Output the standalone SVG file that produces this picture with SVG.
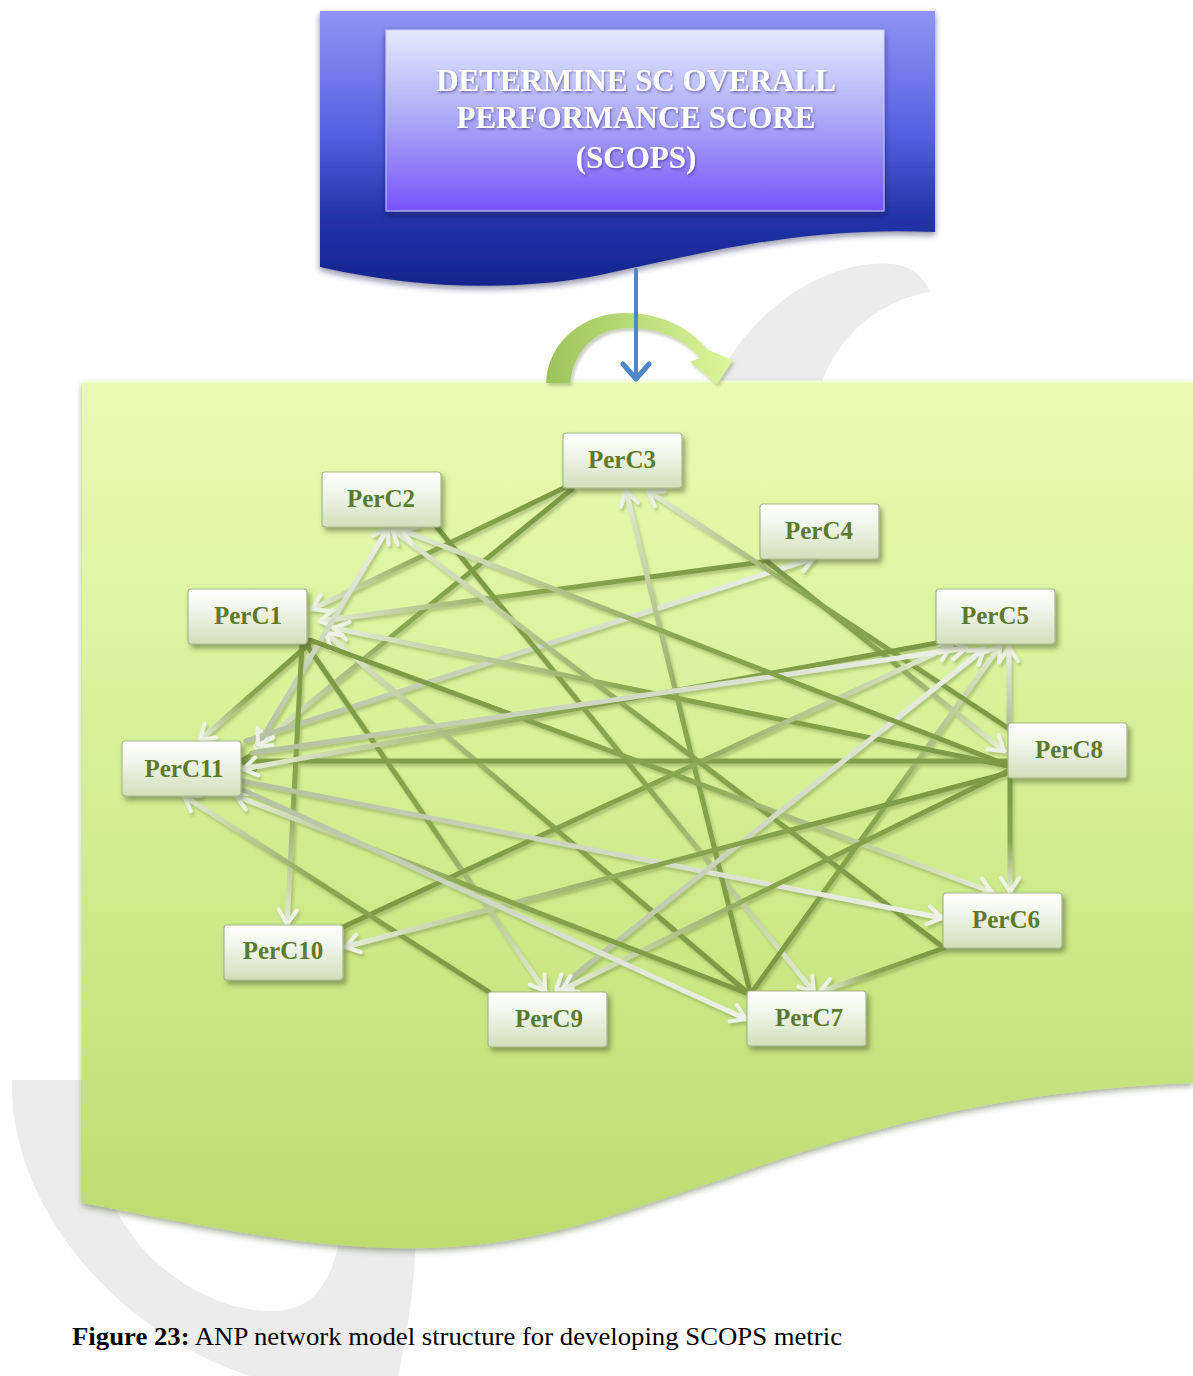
<svg xmlns="http://www.w3.org/2000/svg" xmlns:xlink="http://www.w3.org/1999/xlink" width="1193" height="1376" viewBox="0 0 1193 1376">
  <style>
    .node-box { fill: url(#nodeFill); stroke: #a7b78b; stroke-width: 1.2; filter: url(#nodeShadow); }
    .node-label { font-family: "Liberation Serif", "Times New Roman", serif; font-weight: bold; font-size: 25px; fill: #5d7a2c; text-anchor: middle; }
    .title { font-family: "Liberation Serif", "Times New Roman", serif; font-weight: bold; font-size: 31px; fill: #ffffff; text-anchor: middle; filter: url(#textShadow); }
    .edge { fill: none; stroke-width: 5; stroke-linecap: round; }
    .to-light { marker-end: url(#headLight); }
    .to-dark { marker-end: url(#headDark); }
    .from-light { marker-start: url(#tailLight); }
    .caption { font-family: "Liberation Serif", "Times New Roman", serif; font-size: 25px; fill: #000000; }
  </style>
  <defs>
    <linearGradient id="goalOuter" x1="0" y1="0" x2="0" y2="1">
      <stop offset="0" stop-color="#9094f6"/>
      <stop offset="0.45" stop-color="#5560e0"/>
      <stop offset="0.75" stop-color="#2233a8"/>
      <stop offset="1" stop-color="#14248e"/>
    </linearGradient>
    <linearGradient id="goalInner" x1="0" y1="0" x2="0" y2="1">
      <stop offset="0" stop-color="#e2eafc"/>
      <stop offset="0.5" stop-color="#aaa8f6"/>
      <stop offset="1" stop-color="#7852fa"/>
    </linearGradient>
    <linearGradient id="panelFill" x1="0" y1="0" x2="0" y2="1">
      <stop offset="0" stop-color="#e9fcb2"/>
      <stop offset="0.45" stop-color="#d4f094"/>
      <stop offset="1" stop-color="#bcdc70"/>
    </linearGradient>
    <linearGradient id="loopFill" x1="0" y1="0" x2="1" y2="0">
      <stop offset="0" stop-color="#9cc35a"/>
      <stop offset="1" stop-color="#dcf79c"/>
    </linearGradient>
    <linearGradient id="nodeFill" x1="0" y1="0" x2="0" y2="1">
      <stop offset="0" stop-color="#ffffff"/>
      <stop offset="0.35" stop-color="#f3f6ec"/>
      <stop offset="1" stop-color="#d2dfba"/>
    </linearGradient>
    <!-- connector colour ramps: dark olive at the source, pale at the arrowhead -->
    <linearGradient id="rampDark" gradientUnits="userSpaceOnUse">
      <stop offset="0" stop-color="#7b9943"/>
      <stop offset="0.55" stop-color="#88a750"/>
      <stop offset="1" stop-color="#e6ecd8"/>
    </linearGradient>
    <linearGradient id="rampLight" gradientUnits="userSpaceOnUse">
      <stop offset="0" stop-color="#b2c09e"/>
      <stop offset="1" stop-color="#eef1e8"/>
    </linearGradient>

    <linearGradient id="g1" xlink:href="#rampDark" gradientUnits="userSpaceOnUse" x1="566" y1="487" x2="312" y2="609"/>
    <linearGradient id="g2" xlink:href="#rampDark" gradientUnits="userSpaceOnUse" x1="572" y1="489" x2="256" y2="747"/>
    <linearGradient id="g3" xlink:href="#rampDark" gradientUnits="userSpaceOnUse" x1="762" y1="562" x2="320" y2="621"/>
    <linearGradient id="g4" xlink:href="#rampLight" gradientUnits="userSpaceOnUse" x1="246" y1="741" x2="814" y2="558"/>
    <linearGradient id="g5" xlink:href="#rampDark" gradientUnits="userSpaceOnUse" x1="764" y1="559" x2="1004" y2="751"/>
    <linearGradient id="g6" xlink:href="#rampDark" gradientUnits="userSpaceOnUse" x1="436" y1="526" x2="814" y2="992"/>
    <linearGradient id="g7" xlink:href="#rampDark" gradientUnits="userSpaceOnUse" x1="750" y1="992" x2="626" y2="491"/>
    <linearGradient id="g8" xlink:href="#rampDark" gradientUnits="userSpaceOnUse" x1="752" y1="992" x2="1000" y2="646"/>
    <linearGradient id="g9" xlink:href="#rampDark" gradientUnits="userSpaceOnUse" x1="748" y1="993" x2="326" y2="633"/>
    <linearGradient id="g10" xlink:href="#rampDark" gradientUnits="userSpaceOnUse" x1="306" y1="644" x2="545" y2="991"/>
    <linearGradient id="g11" xlink:href="#rampDark" gradientUnits="userSpaceOnUse" x1="1008" y1="766" x2="334" y2="628"/>
    <linearGradient id="g13" xlink:href="#rampLight" gradientUnits="userSpaceOnUse" x1="258" y1="745" x2="388" y2="528"/>
    <linearGradient id="g14" xlink:href="#rampDark" gradientUnits="userSpaceOnUse" x1="1008" y1="728" x2="648" y2="491"/>
    <linearGradient id="g15" xlink:href="#rampDark" gradientUnits="userSpaceOnUse" x1="302" y1="645" x2="287" y2="924"/>
    <linearGradient id="g16" xlink:href="#rampDark" gradientUnits="userSpaceOnUse" x1="343" y1="927" x2="951" y2="646"/>
    <linearGradient id="g17" xlink:href="#rampDark" gradientUnits="userSpaceOnUse" x1="489" y1="992" x2="184" y2="796"/>
    <linearGradient id="g18" xlink:href="#rampDark" gradientUnits="userSpaceOnUse" x1="944" y1="948" x2="820" y2="992"/>
    <linearGradient id="g19" xlink:href="#rampDark" gradientUnits="userSpaceOnUse" x1="943" y1="947" x2="392" y2="529"/>
    <linearGradient id="g20" xlink:href="#rampLight" gradientUnits="userSpaceOnUse" x1="1009" y1="723" x2="1009" y2="647"/>
    <linearGradient id="g21" xlink:href="#rampDark" gradientUnits="userSpaceOnUse" x1="1010" y1="779" x2="1010" y2="892"/>
    <linearGradient id="g22" xlink:href="#rampDark" gradientUnits="userSpaceOnUse" x1="310" y1="640" x2="992" y2="892"/>
    <linearGradient id="g23" xlink:href="#rampLight" gradientUnits="userSpaceOnUse" x1="242" y1="781" x2="942" y2="918"/>
    <linearGradient id="g24" xlink:href="#rampDark" gradientUnits="userSpaceOnUse" x1="937" y1="643" x2="243" y2="769"/>
    <linearGradient id="g25" xlink:href="#rampLight" gradientUnits="userSpaceOnUse" x1="252" y1="753" x2="966" y2="648"/>
    <linearGradient id="g26" xlink:href="#rampLight" gradientUnits="userSpaceOnUse" x1="556" y1="990" x2="984" y2="649"/>
    <linearGradient id="g27" xlink:href="#rampDark" gradientUnits="userSpaceOnUse" x1="1010" y1="770" x2="562" y2="990"/>
    <linearGradient id="g28" xlink:href="#rampDark" gradientUnits="userSpaceOnUse" x1="1012" y1="772" x2="345" y2="947"/>
    <linearGradient id="g29" xlink:href="#rampDark" gradientUnits="userSpaceOnUse" x1="1010" y1="766" x2="402" y2="530"/>
    <linearGradient id="g30" xlink:href="#rampDark" gradientUnits="userSpaceOnUse" x1="749" y1="994" x2="236" y2="796"/>
    <linearGradient id="g31" xlink:href="#rampLight" gradientUnits="userSpaceOnUse" x1="241" y1="789" x2="746" y2="1019"/>
    <linearGradient id="g32" xlink:href="#rampDark" gradientUnits="userSpaceOnUse" x1="309" y1="644" x2="200" y2="740"/>

    <marker id="headLight" markerUnits="userSpaceOnUse" viewBox="-18 -12 22 24" markerWidth="22" markerHeight="24" refX="0" refY="0" orient="auto" overflow="visible">
      <path d="M-14,-9 L0,0 L-14,9" fill="none" stroke="#eef2e6" stroke-width="4" stroke-linecap="round" stroke-linejoin="round"/>
    </marker>
    <marker id="tailLight" markerUnits="userSpaceOnUse" viewBox="-4 -12 22 24" markerWidth="22" markerHeight="24" refX="0" refY="0" orient="auto" overflow="visible">
      <path d="M14,-9 L0,0 L14,9" fill="none" stroke="#eef2e6" stroke-width="4" stroke-linecap="round" stroke-linejoin="round"/>
    </marker>
    <marker id="headDark" markerUnits="userSpaceOnUse" viewBox="-18 -12 22 24" markerWidth="22" markerHeight="24" refX="0" refY="0" orient="auto" overflow="visible">
      <path d="M-14,-9 L0,0 L-14,9" fill="none" stroke="#7f9d47" stroke-width="4" stroke-linecap="round" stroke-linejoin="round"/>
    </marker>

    <filter id="nodeShadow" x="-20%" y="-30%" width="150%" height="170%">
      <feDropShadow dx="3" dy="4" stdDeviation="2.5" flood-color="#44552a" flood-opacity="0.5"/>
    </filter>
    <filter id="edgeShadow" x="-10%" y="-10%" width="120%" height="120%">
      <feDropShadow dx="2" dy="3" stdDeviation="1.5" flood-color="#4d6128" flood-opacity="0.3"/>
    </filter>
    <filter id="panelShadow" x="-5%" y="-5%" width="110%" height="115%">
      <feDropShadow dx="0" dy="3" stdDeviation="3" flood-color="#3c4a22" flood-opacity="0.45"/>
    </filter>
    <filter id="goalShadow" x="-5%" y="-5%" width="110%" height="120%">
      <feDropShadow dx="0" dy="3" stdDeviation="3" flood-color="#101840" flood-opacity="0.5"/>
    </filter>
    <filter id="textShadow" x="-5%" y="-20%" width="110%" height="150%">
      <feDropShadow dx="1" dy="1.5" stdDeviation="1" flood-color="#2a2070" flood-opacity="0.55"/>
    </filter>
  </defs>

  <rect width="1193" height="1376" fill="#ffffff"/>

  <!-- pale grey background mark -->
  <g id="backdrop-mark" fill="#ececec">
    <path d="M12,1080 C8,1200 110,1330 250,1376 L398,1376 C410,1320 418,1270 416,1180 L416,1080 Z M96,1150 C112,1250 200,1311 272,1311 C322,1311 342,1270 346,1180 Z" fill-rule="evenodd"/>
    <path d="M716,382 C752,306 830,258 893,264 C912,266 925,278 930,292 C880,300 838,336 822,382 Z"/>
  </g>

  <!-- goal banner -->
  <g id="goal">
    <path d="M320,11 L935,11 L935,232 C800,226 700,254 600,275 C520,291 420,290 320,267 Z" fill="url(#goalOuter)" filter="url(#goalShadow)"/>
    <rect x="386" y="30" width="498" height="181" fill="url(#goalInner)" stroke="#c8ccf8" stroke-width="1" filter="url(#goalShadow)"/>
    <text class="title" x="636" y="91">DETERMINE SC OVERALL</text>
    <text class="title" x="636" y="128">PERFORMANCE SCORE</text>
    <text class="title" x="636" y="168">(SCOPS)</text>
  </g>

  <!-- network panel -->
  <g id="network-panel">
    <path d="M82,381 L1193,381 L1193,1083 C1000,1090 860,1130 720,1180 C640,1205 560,1240 450,1247 C330,1255 200,1225 82,1203 Z" fill="url(#panelFill)" filter="url(#panelShadow)"/>
    <line x1="82" y1="381.5" x2="1193" y2="381.5" stroke="#f6ffd8" stroke-width="2"/>
  </g>

  <!-- feedback loop over the panel -->
  <g id="feedback-loop">
    <path d="M546,383 C548,340 585,313 625,313 C662,313 690,328 708,350 L733,360 L717,384 L690,362 L700,358 C686,340 660,328 628,328 C598,328 574,348 570,383 Z" fill="url(#loopFill)" filter="url(#edgeShadow)"/>
  </g>

  <!-- goal to network link -->
  <g id="goal-link" fill="none" stroke="#4f88c8" stroke-linecap="round" stroke-linejoin="round">
    <line x1="636" y1="270" x2="636" y2="378" stroke-width="4"/>
    <path d="M623,364 L636,379 L649,364" stroke-width="5"/>
  </g>

  <!-- dependencies between criteria -->
  <g id="connectors" filter="url(#edgeShadow)">
    <line class="edge to-light" x1="566" y1="487" x2="312" y2="609" stroke="url(#g1)"/>
    <line class="edge to-light" x1="572" y1="489" x2="256" y2="747" stroke="url(#g2)"/>
    <line class="edge to-light" x1="762" y1="562" x2="320" y2="621" stroke="url(#g3)"/>
    <line class="edge to-light" x1="246" y1="741" x2="814" y2="558" stroke="url(#g4)"/>
    <line class="edge to-light" x1="764" y1="559" x2="1004" y2="751" stroke="url(#g5)"/>
    <line class="edge to-light" x1="436" y1="526" x2="814" y2="992" stroke="url(#g6)"/>
    <line class="edge to-light" x1="750" y1="992" x2="626" y2="491" stroke="url(#g7)"/>
    <line class="edge to-light" x1="752" y1="992" x2="1000" y2="646" stroke="url(#g8)"/>
    <line class="edge to-light" x1="748" y1="993" x2="326" y2="633" stroke="url(#g9)"/>
    <line class="edge to-light" x1="306" y1="644" x2="545" y2="991" stroke="url(#g10)"/>
    <line class="edge to-light" x1="1008" y1="766" x2="334" y2="628" stroke="url(#g11)"/>
    <line class="edge to-dark" x1="1008" y1="761" x2="241" y2="761" stroke="#819f49"/>
    <line class="edge to-light from-light" x1="258" y1="745" x2="388" y2="528" stroke="url(#g13)"/>
    <line class="edge to-light" x1="1008" y1="728" x2="648" y2="491" stroke="url(#g14)"/>
    <line class="edge to-light" x1="302" y1="645" x2="287" y2="924" stroke="url(#g15)"/>
    <line class="edge to-light" x1="343" y1="927" x2="951" y2="646" stroke="url(#g16)"/>
    <line class="edge to-light" x1="489" y1="992" x2="184" y2="796" stroke="url(#g17)"/>
    <line class="edge to-light" x1="944" y1="948" x2="820" y2="992" stroke="url(#g18)"/>
    <line class="edge to-light" x1="943" y1="947" x2="392" y2="529" stroke="url(#g19)"/>
    <line class="edge to-light" x1="1009" y1="723" x2="1009" y2="647" stroke="url(#g20)"/>
    <line class="edge to-light" x1="1010" y1="779" x2="1010" y2="892" stroke="url(#g21)"/>
    <line class="edge to-light" x1="310" y1="640" x2="992" y2="892" stroke="url(#g22)"/>
    <line class="edge to-light" x1="242" y1="781" x2="942" y2="918" stroke="url(#g23)"/>
    <line class="edge to-light" x1="937" y1="643" x2="243" y2="769" stroke="url(#g24)"/>
    <line class="edge to-light" x1="252" y1="753" x2="966" y2="648" stroke="url(#g25)"/>
    <line class="edge to-light from-light" x1="556" y1="990" x2="984" y2="649" stroke="url(#g26)"/>
    <line class="edge to-light" x1="1010" y1="770" x2="562" y2="990" stroke="url(#g27)"/>
    <line class="edge to-light" x1="1012" y1="772" x2="345" y2="947" stroke="url(#g28)"/>
    <line class="edge to-light" x1="1010" y1="766" x2="402" y2="530" stroke="url(#g29)"/>
    <line class="edge to-light" x1="749" y1="994" x2="236" y2="796" stroke="url(#g30)"/>
    <line class="edge to-light" x1="241" y1="789" x2="746" y2="1019" stroke="url(#g31)"/>
    <line class="edge to-light" x1="309" y1="644" x2="200" y2="740" stroke="url(#g32)"/>
  </g>

  <!-- criteria -->
  <g id="PerC1"><rect class="node-box" x="188" y="589" width="119" height="55" rx="3"/><text class="node-label" x="248" y="624">PerC1</text></g>
  <g id="PerC2"><rect class="node-box" x="322" y="472" width="119" height="55" rx="3"/><text class="node-label" x="381" y="507">PerC2</text></g>
  <g id="PerC3"><rect class="node-box" x="563" y="433" width="119" height="55" rx="3"/><text class="node-label" x="622" y="468">PerC3</text></g>
  <g id="PerC4"><rect class="node-box" x="760" y="504" width="119" height="55" rx="3"/><text class="node-label" x="819" y="539">PerC4</text></g>
  <g id="PerC5"><rect class="node-box" x="936" y="589" width="119" height="55" rx="3"/><text class="node-label" x="995" y="624">PerC5</text></g>
  <g id="PerC6"><rect class="node-box" x="943" y="893" width="119" height="55" rx="3"/><text class="node-label" x="1006" y="928">PerC6</text></g>
  <g id="PerC7"><rect class="node-box" x="747" y="991" width="119" height="55" rx="3"/><text class="node-label" x="809" y="1026">PerC7</text></g>
  <g id="PerC8"><rect class="node-box" x="1008" y="723" width="119" height="55" rx="3"/><text class="node-label" x="1069" y="758">PerC8</text></g>
  <g id="PerC9"><rect class="node-box" x="488" y="992" width="119" height="55" rx="3"/><text class="node-label" x="549" y="1027">PerC9</text></g>
  <g id="PerC10"><rect class="node-box" x="224" y="925" width="119" height="55" rx="3"/><text class="node-label" x="283" y="959">PerC10</text></g>
  <g id="PerC11"><rect class="node-box" x="122" y="741" width="119" height="55" rx="3"/><text class="node-label" x="184" y="777">PerC11</text></g>

  <text class="caption" x="72" y="1345" textLength="770" lengthAdjust="spacingAndGlyphs"><tspan font-weight="bold">Figure 23:</tspan> ANP network model structure for developing SCOPS metric</text>
</svg>
